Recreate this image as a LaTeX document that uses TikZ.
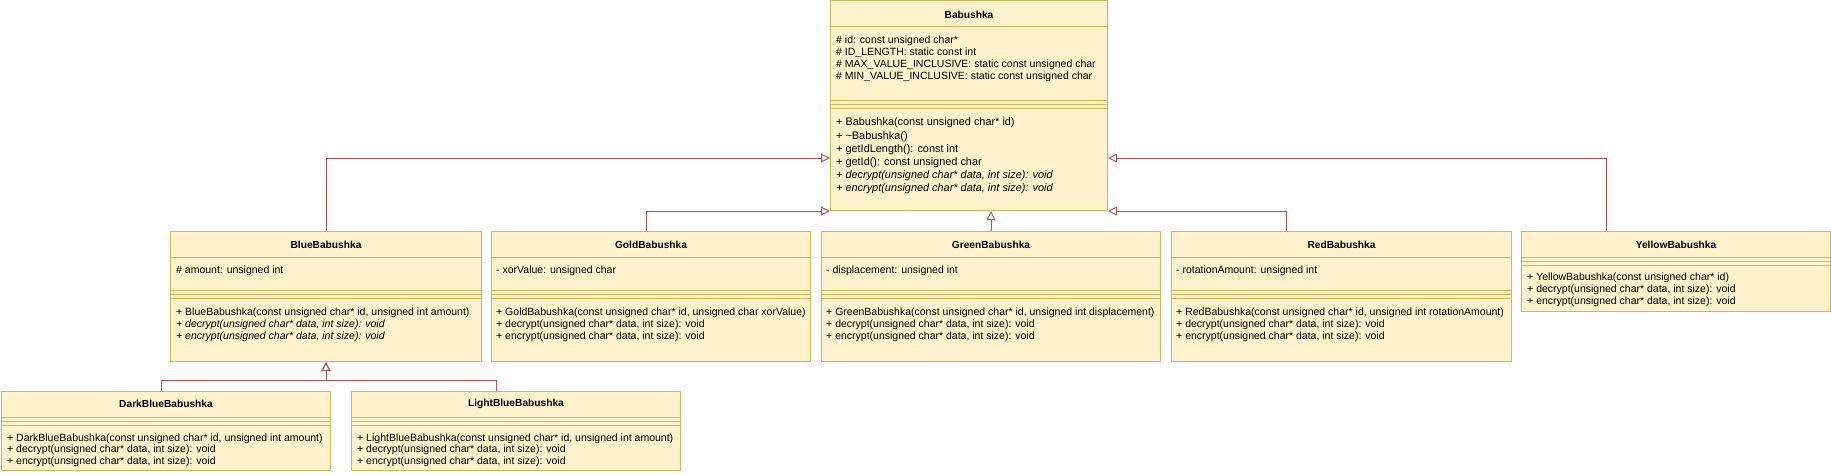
\documentclass[tikz,border=0pt]{standalone}
\usepackage{fontspec}
\setmainfont{Liberation Sans}
\usetikzlibrary{arrows.meta,positioning,calc}
\definecolor{boxfill}{HTML}{FFF2CC}
\definecolor{boxline}{HTML}{D6B656}
\definecolor{linkred}{HTML}{B85450}

\begin{document}
\begin{tikzpicture}[x=1pt,y=-1pt,
  classbox/.style={draw=boxline,fill=boxfill,line width=1pt,anchor=north west,inner sep=0pt},
  cname/.style={font=\fontsize{10.2}{12}\selectfont\bfseries,inner sep=0pt},
  member/.style={font=\fontsize{10.5}{12}\selectfont,anchor=base west,inner sep=0pt},
  bigmember/.style={font=\fontsize{10.9}{13}\selectfont,anchor=base west,inner sep=0pt},
  divider/.style={draw=boxline,line width=1pt},
  inherit/.style={draw=linkred,line width=1pt,-{Triangle[open,length=9pt,width=9pt]}}]
 \useasboundingbox (0,0) rectangle (1831,474);

 % base class
 \node[classbox,minimum width=277pt,minimum height=210pt] (babushka) at (830,0) {};
 \node[cname] (babushka-t) at ($(babushka.north)+(0,15)$) {Babushka};
 \foreach \d in {26,100,104,108}
  \draw[divider] ([yshift=-\d pt]babushka.north west) -- ([yshift=-\d pt]babushka.north east);
 \foreach \m [count=\i] in {{\# id: const unsigned char*},{\# ID\_LENGTH: static const int},
   {\# MAX\_VALUE\_INCLUSIVE: static const unsigned char},{\# MIN\_VALUE\_INCLUSIVE: static const unsigned char}}
  \node[member] (babushka-a\i) at ($(babushka.north west)+(6,{31.7+12*\i})$) {\m};
 \foreach \m [count=\i] in {{+ Babushka(const unsigned char* id)},{+ \textasciitilde{}Babushka()},
   {+ getIdLength(): const int},{+ getId(): const unsigned char},
   {\itshape + decrypt(unsigned char* data, int size): void},{\itshape + encrypt(unsigned char* data, int size): void}}
  \node[bigmember] (babushka-m\i) at ($(babushka.north west)+(6,{112.7+13.2*\i})$) {\m};

 % second row
 \node[classbox,minimum width=311pt,minimum height=130pt] (blue) at (170,231) {};
 \node[classbox,minimum width=319pt,minimum height=130pt] (gold) at (491,231) {};
 \node[classbox,minimum width=339pt,minimum height=130pt] (green) at (821,231) {};
 \node[classbox,minimum width=340pt,minimum height=130pt] (red) at (1171,231) {};
 \node[classbox,minimum width=309pt,minimum height=80pt] (yellow) at (1521,231) {};
 \foreach \c/\t in {blue/BlueBabushka,gold/GoldBabushka,green/GreenBabushka,red/RedBabushka,yellow/YellowBabushka}
  \node[cname] (\c-t) at ($(\c.north)+(0,14)$) {\t};
 \foreach \c in {blue,gold,green,red}
  \foreach \d in {26,59,63,67}
   \draw[divider] ([yshift=-\d pt]\c.north west) -- ([yshift=-\d pt]\c.north east);
 \foreach \d in {26,30,34}
  \draw[divider] ([yshift=-\d pt]yellow.north west) -- ([yshift=-\d pt]yellow.north east);

 % fields
 \node[member] (blue-a) at ($(blue.north west)+(6,42.7)$) {\# amount: unsigned int};
 \node[member] (gold-a) at ($(gold.north west)+(5,42.7)$) {- xorValue: unsigned char};
 \node[member] (green-a) at ($(green.north west)+(5,42.7)$) {- displacement: unsigned int};
 \node[member] (red-a) at ($(red.north west)+(5,42.7)$) {- rotationAmount: unsigned int};

 % methods
 \foreach \m [count=\i] in {{+ BlueBabushka(const unsigned char* id, unsigned int amount)},
   {\itshape + decrypt(unsigned char* data, int size): void},{\itshape + encrypt(unsigned char* data, int size): void}}
  \node[member] (blue-m\i) at ($(blue.north west)+(6,{72.7+12*\i})$) {\m};
 \foreach \m [count=\i] in {{+ GoldBabushka(const unsigned char* id, unsigned char xorValue)},
   {+ decrypt(unsigned char* data, int size): void},{+ encrypt(unsigned char* data, int size): void}}
  \node[member] (gold-m\i) at ($(gold.north west)+(5,{72.7+12*\i})$) {\m};
 \foreach \m [count=\i] in {{+ GreenBabushka(const unsigned char* id, unsigned int displacement)},
   {+ decrypt(unsigned char* data, int size): void},{+ encrypt(unsigned char* data, int size): void}}
  \node[member] (green-m\i) at ($(green.north west)+(5,{72.7+12*\i})$) {\m};
 \foreach \m [count=\i] in {{+ RedBabushka(const unsigned char* id, unsigned int rotationAmount)},
   {+ decrypt(unsigned char* data, int size): void},{+ encrypt(unsigned char* data, int size): void}}
  \node[member] (red-m\i) at ($(red.north west)+(5,{72.7+12*\i})$) {\m};
 \foreach \m [count=\i] in {{+ YellowBabushka(const unsigned char* id)},
   {+ decrypt(unsigned char* data, int size): void},{+ encrypt(unsigned char* data, int size): void}}
  \node[member] (yellow-m\i) at ($(yellow.north west)+(6,{37.7+12*\i})$) {\m};

 % third row
 \node[classbox,minimum width=329pt,minimum height=79pt] (darkblue) at (1,391) {};
 \node[classbox,minimum width=329pt,minimum height=79pt] (lightblue) at (351,391) {};
 \node[cname] (darkblue-t) at ($(darkblue.north)+(0,13)$) {DarkBlueBabushka};
 \node[cname] (lightblue-t) at ($(lightblue.north)+(0,13)$) {LightBlueBabushka};
 \foreach \c in {darkblue,lightblue}
  \foreach \d in {26,30,34}
   \draw[divider] ([yshift=-\d pt]\c.north west) -- ([yshift=-\d pt]\c.north east);
 \foreach \m [count=\i] in {{+ DarkBlueBabushka(const unsigned char* id, unsigned int amount)},
   {+ decrypt(unsigned char* data, int size): void},{+ encrypt(unsigned char* data, int size): void}}
  \node[member] (darkblue-m\i) at ($(darkblue.north west)+(6,{38.7+11.6*\i})$) {\m};
 \foreach \m [count=\i] in {{+ LightBlueBabushka(const unsigned char* id, unsigned int amount)},
   {+ decrypt(unsigned char* data, int size): void},{+ encrypt(unsigned char* data, int size): void}}
  \node[member] (lightblue-m\i) at ($(lightblue.north west)+(6,{38.7+11.6*\i})$) {\m};

 % generalisation
 \draw[inherit] (blue.north) |- ([yshift=53pt]babushka.south west);
 \draw[inherit] ([xshift=-5pt]gold.north) |- (babushka.south west);
 \draw[inherit] (green.north) -- (green.north |- babushka.south);
 \draw[inherit] ([xshift=-55pt]red.north) |- (babushka.south east);
 \draw[inherit] ([xshift=-70pt]yellow.north) |- ([yshift=53pt]babushka.south east);
 \draw[inherit] ([xshift=-5pt]darkblue.north) -- ++(0,-11) -| (blue.south);
 \draw[inherit] ([xshift=-20pt]lightblue.north) -- ++(0,-11) -| (blue.south);
\end{tikzpicture}
\end{document}
